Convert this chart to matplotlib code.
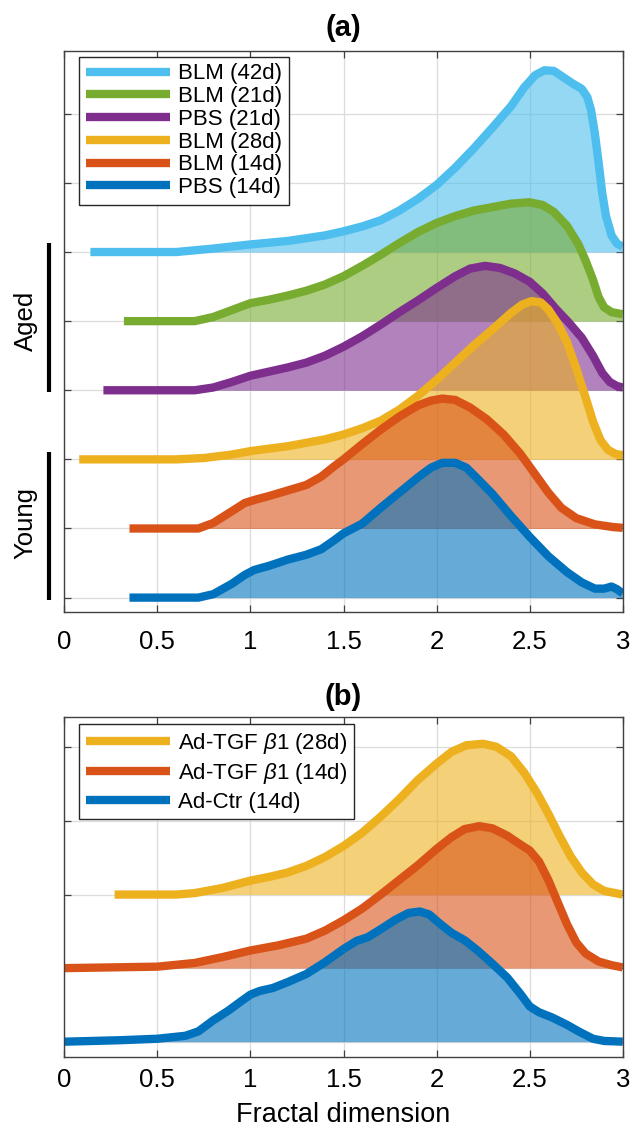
import matplotlib

matplotlib.use("Agg")

import matplotlib.pyplot as plt
from matplotlib.transforms import blended_transform_factory

# ---- panel (a) data: ridge offsets, x positions and ridge heights ----
a_labels = ["BLM (42d)", "BLM (21d)", "PBS (21d)", "BLM (28d)", "BLM (14d)", "PBS (14d)"]
a_offsets = [5, 4, 3, 2, 1, 0]

blm42_x = [0.14, 0.6, 0.8, 1.0, 1.2, 1.4, 1.5, 1.6, 1.7, 1.8, 1.9, 2.0, 2.1, 2.2, 2.3, 2.4,
           2.47, 2.53, 2.58, 2.63, 2.68, 2.73, 2.78, 2.81, 2.83, 2.85, 2.87, 2.89, 2.91,
           2.94, 2.97, 3.0]
blm42_h = [0.0, 0.0, 0.05, 0.11, 0.16, 0.24, 0.30, 0.37, 0.46, 0.60, 0.77, 0.97, 1.22, 1.50,
           1.80, 2.11, 2.38, 2.56, 2.63, 2.62, 2.53, 2.44, 2.36, 2.24, 2.05, 1.72, 1.30, 0.85,
           0.52, 0.24, 0.12, 0.08]

blm21_x = [0.32, 0.7, 0.8, 0.9, 1.0, 1.1, 1.2, 1.3, 1.4, 1.5, 1.6, 1.7, 1.8, 1.9, 2.0, 2.1,
           2.2, 2.3, 2.4, 2.5, 2.57, 2.63, 2.7, 2.76, 2.8, 2.84, 2.87, 2.9, 2.94, 3.0]
blm21_h = [0.0, 0.0, 0.06, 0.16, 0.26, 0.31, 0.37, 0.44, 0.53, 0.65, 0.80, 0.96, 1.13, 1.29,
           1.42, 1.52, 1.60, 1.65, 1.70, 1.72, 1.68, 1.58, 1.38, 1.12, 0.88, 0.60, 0.35, 0.20,
           0.13, 0.10]

pbs21_x = [0.21, 0.7, 0.8, 0.9, 1.0, 1.1, 1.2, 1.3, 1.4, 1.5, 1.6, 1.7, 1.8, 1.9, 2.0, 2.1,
           2.18, 2.26, 2.34, 2.42, 2.5, 2.57, 2.64, 2.71, 2.78, 2.84, 2.89, 2.93, 2.97, 3.0]
pbs21_h = [0.0, 0.0, 0.04, 0.12, 0.21, 0.27, 0.33, 0.40, 0.50, 0.63, 0.78, 0.95, 1.13, 1.30,
           1.48, 1.65, 1.76, 1.80, 1.77, 1.69, 1.57, 1.40, 1.18, 0.98, 0.76, 0.50, 0.25, 0.12,
           0.06, 0.04]

blm28_x = [0.08, 0.6, 0.75, 0.9, 1.0, 1.2, 1.4, 1.5, 1.6, 1.7, 1.8, 1.9, 2.0, 2.1, 2.2, 2.3,
           2.4, 2.46, 2.51, 2.56, 2.6, 2.65, 2.7, 2.75, 2.8, 2.84, 2.88, 2.92, 2.96, 3.0]
blm28_h = [0.0, 0.0, 0.02, 0.07, 0.12, 0.19, 0.29, 0.36, 0.45, 0.56, 0.72, 0.92, 1.15, 1.40,
           1.65, 1.88, 2.12, 2.24, 2.29, 2.27, 2.17, 1.97, 1.70, 1.32, 0.90, 0.55, 0.28, 0.14,
           0.08, 0.06]

blm14_x = [0.35, 0.72, 0.8, 0.9, 0.97, 1.03, 1.1, 1.2, 1.3, 1.38, 1.45, 1.5, 1.6, 1.7, 1.8,
           1.9, 1.97, 2.03, 2.1, 2.18, 2.27, 2.36, 2.45, 2.52, 2.6, 2.67, 2.75, 2.85, 2.95, 3.0]
blm14_h = [0.0, 0.0, 0.08, 0.25, 0.37, 0.42, 0.47, 0.55, 0.63, 0.75, 0.90, 1.0, 1.22, 1.43,
           1.62, 1.78, 1.85, 1.88, 1.86, 1.75, 1.58, 1.36, 1.08, 0.82, 0.52, 0.30, 0.15, 0.06,
           0.02, 0.01]

pbs14_x = [0.35, 0.72, 0.8, 0.9, 0.97, 1.02, 1.1, 1.2, 1.3, 1.38, 1.45, 1.5, 1.6, 1.7, 1.8,
           1.9, 1.97, 2.03, 2.1, 2.16, 2.22, 2.3, 2.4, 2.5, 2.6, 2.7, 2.78, 2.85, 2.9, 2.94,
           2.97, 3.0]
pbs14_h = [0.0, 0.0, 0.05, 0.20, 0.33, 0.40, 0.46, 0.55, 0.62, 0.70, 0.83, 0.93, 1.07, 1.30,
           1.52, 1.74, 1.88, 1.95, 1.95, 1.88, 1.72, 1.50, 1.18, 0.88, 0.60, 0.37, 0.22, 0.13,
           0.13, 0.16, 0.12, 0.06]

# ---- panel (b) data ----
b_labels = [r"Ad-TGF $\beta$1 (28d)", r"Ad-TGF $\beta$1 (14d)", "Ad-Ctr (14d)"]
b_offsets = [2, 1, 0]

tgf28_x = [0.27, 0.6, 0.7, 0.85, 1.0, 1.1, 1.2, 1.3, 1.4, 1.5, 1.6, 1.7, 1.8, 1.9, 2.0, 2.08,
           2.16, 2.25, 2.32, 2.4, 2.47, 2.54, 2.6, 2.66, 2.72, 2.78, 2.84, 2.9, 3.0]
tgf28_h = [0.0, 0.0, 0.02, 0.09, 0.19, 0.24, 0.30, 0.39, 0.51, 0.66, 0.84, 1.06, 1.30, 1.56,
           1.78, 1.94, 2.03, 2.05, 2.01, 1.88, 1.66, 1.38, 1.10, 0.80, 0.52, 0.30, 0.14, 0.05,
           0.0]

tgf14_x = [0.0, 0.5, 0.7, 0.85, 1.0, 1.15, 1.3, 1.4, 1.5, 1.6, 1.7, 1.8, 1.9, 2.0, 2.08, 2.15,
           2.23, 2.3, 2.38, 2.45, 2.5, 2.55, 2.6, 2.65, 2.7, 2.75, 2.8, 2.87, 2.94, 3.0]
tgf14_h = [0.0, 0.02, 0.07, 0.15, 0.24, 0.31, 0.40, 0.51, 0.65, 0.81, 1.00, 1.20, 1.40, 1.62,
           1.78, 1.89, 1.93, 1.90, 1.80, 1.68, 1.60, 1.45, 1.20, 0.90, 0.60, 0.35, 0.20, 0.09,
           0.04, 0.01]

adctr_x = [0.0, 0.3, 0.5, 0.65, 0.72, 0.8, 0.88, 0.95, 1.0, 1.05, 1.12, 1.2, 1.3, 1.4, 1.5,
           1.57, 1.63, 1.7, 1.78, 1.85, 1.91, 1.96, 2.02, 2.08, 2.15, 2.22, 2.3, 2.38, 2.45,
           2.5, 2.55, 2.62, 2.7, 2.77, 2.84, 2.9, 3.0]
adctr_h = [0.0, 0.02, 0.04, 0.08, 0.14, 0.29, 0.42, 0.55, 0.64, 0.69, 0.73, 0.81, 0.92, 1.08,
           1.26, 1.37, 1.42, 1.53, 1.66, 1.75, 1.77, 1.73, 1.60, 1.48, 1.38, 1.24, 1.06, 0.87,
           0.65, 0.48, 0.40, 0.33, 0.23, 0.13, 0.04, 0.01, 0.0]

x_ticks = [0, 0.5, 1, 1.5, 2, 2.5, 3]
x_ticklabels = ["0", "0.5", "1", "1.5", "2", "2.5", "3"]

C_BLUE, C_ORANGE, C_YELLOW = "#0072BD", "#D95319", "#EDB120"
C_PURPLE, C_GREEN, C_CYAN = "#7E2F8E", "#77AC30", "#4DBEEE"

plt.rcParams["font.family"] = ["Liberation Sans", "DejaVu Sans"]
plt.rcParams["mathtext.fontset"] = "custom"
plt.rcParams["mathtext.rm"] = "Liberation Sans"
plt.rcParams["mathtext.it"] = "Liberation Sans:italic"

SPINE = "#404040"


def draw_ridges(ax, series):
    # top ridge first so that lower ridges sit on top of it
    for xs, hs, off, color, label in series:
        ys = [off + h for h in hs]
        ax.fill_between(xs, off, ys, color=color, alpha=0.6, linewidth=0)
        ax.plot(xs, ys, color=color, lw=6, label=label,
                solid_capstyle="butt", solid_joinstyle="round")


def style_axes(ax, ylim, n_yticks, label_pad):
    ax.set_xlim(0, 3)
    ax.set_ylim(*ylim)
    ax.set_xticks(x_ticks)
    ax.set_xticklabels(x_ticklabels)
    ax.set_yticks(range(n_yticks))
    ax.set_yticklabels([])
    ax.grid(True, color="#DCDCDC", lw=0.9)
    ax.set_axisbelow(True)
    ax.tick_params(direction="in", length=5, width=0.9, color=SPINE,
                   top=True, right=True, labelsize=18.5, pad=label_pad)
    for sp in ax.spines.values():
        sp.set_color(SPINE)
        sp.set_linewidth(1.0)


fig = plt.figure(figsize=(6.42, 11.31), dpi=100)
ax_a = fig.add_axes([0.1002, 0.4592, 0.8698, 0.4958])
ax_b = fig.add_axes([0.1002, 0.0657, 0.8698, 0.3001])

draw_ridges(ax_a, [
    (blm42_x, blm42_h, a_offsets[0], C_CYAN, a_labels[0]),
    (blm21_x, blm21_h, a_offsets[1], C_GREEN, a_labels[1]),
    (pbs21_x, pbs21_h, a_offsets[2], C_PURPLE, a_labels[2]),
    (blm28_x, blm28_h, a_offsets[3], C_YELLOW, a_labels[3]),
    (blm14_x, blm14_h, a_offsets[4], C_ORANGE, a_labels[4]),
    (pbs14_x, pbs14_h, a_offsets[5], C_BLUE, a_labels[5]),
])
style_axes(ax_a, (-0.203, 7.91), 8, 13)

draw_ridges(ax_b, [
    (tgf28_x, tgf28_h, b_offsets[0], C_YELLOW, b_labels[0]),
    (tgf14_x, tgf14_h, b_offsets[1], C_ORANGE, b_labels[1]),
    (adctr_x, adctr_h, b_offsets[2], C_BLUE, b_labels[2]),
])
style_axes(ax_b, (-0.204, 4.41), 5, 8)
ax_b.set_xlabel("Fractal dimension", fontsize=19.5, labelpad=7)

leg_kw = dict(loc="upper left", fontsize=16, handlelength=3.8, handletextpad=0.35,
              borderpad=0.3, borderaxespad=0, fancybox=False, framealpha=1,
              edgecolor="#262626")
leg_a = ax_a.legend(bbox_to_anchor=(0.0263, 0.9898), labelspacing=0.08, **leg_kw)
leg_b = ax_b.legend(bbox_to_anchor=(0.0263, 0.9803), labelspacing=0.25, **leg_kw)
for leg in (leg_a, leg_b):
    leg.get_frame().set_linewidth(1.0)

# group brackets on the left of panel (a)
tr = blended_transform_factory(ax_a.transAxes, ax_a.transData)
ax_a.plot([-0.027, -0.027], [2.98, 5.13], color="black", lw=3, transform=tr,
          clip_on=False, solid_capstyle="butt")
ax_a.plot([-0.027, -0.027], [-0.04, 2.11], color="black", lw=3, transform=tr,
          clip_on=False, solid_capstyle="butt")
ax_a.text(-0.069, 4.0, "Aged", rotation=90, ha="center", va="center",
          fontsize=18.5, transform=tr)
ax_a.text(-0.069, 1.08, "Young", rotation=90, ha="center", va="center",
          fontsize=18.5, transform=tr)

fig.text(0.5 * (64.3 + 622.7) / 642, 1 - 28 / 1131, "(a)", ha="center", va="center",
         fontsize=21, fontweight="bold")
fig.text(0.5 * (64.3 + 622.7) / 642, 1 - 697 / 1131, "(b)", ha="center", va="center",
         fontsize=21, fontweight="bold")

fig.savefig("out.png", dpi=100)
